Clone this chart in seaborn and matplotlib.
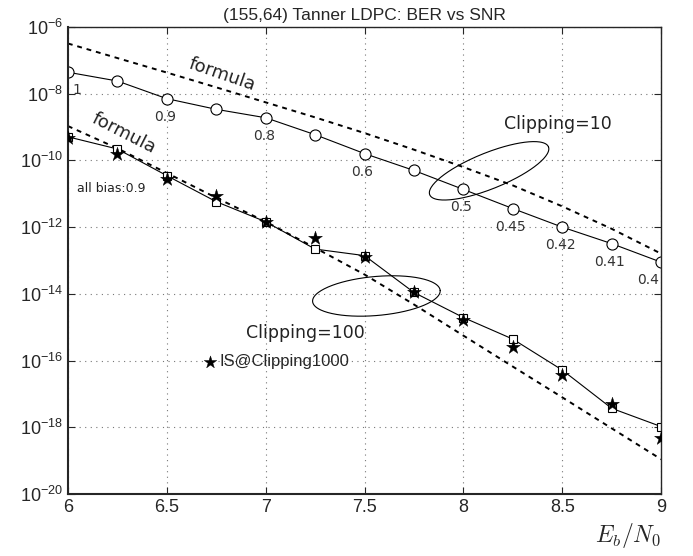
import numpy as np
import pandas as pd
import matplotlib
matplotlib.use("Agg")
import matplotlib.pyplot as plt
import seaborn as sns

# Eb/N0 grid
snr = [6.0, 6.25, 6.5, 6.75, 7.0, 7.25, 7.5, 7.75, 8.0, 8.25, 8.5, 8.75, 9.0]

# Clipping=10 (circles)
ber_clip10 = [4.4e-8, 2.4e-8, 7.1e-9, 3.4e-9, 1.9e-9, 5.9e-10, 1.6e-10,
              5.0e-11, 1.35e-11, 3.6e-12, 1.0e-12, 3.2e-13, 8.9e-14]
bias_labels = ["1", "", "0.9", "", "0.8", "", "0.6", "", "0.5", "0.45", "0.42", "0.41", "0.4"]

# Clipping=100 (squares)
ber_clip100 = [5.1e-10, 2.2e-10, 3.5e-11, 5.8e-12, 1.45e-12, 2.2e-13, 1.4e-13,
               1.1e-14, 1.95e-15, 4.4e-16, 5.2e-17, 3.7e-18, 1.05e-18]

# IS @ Clipping1000 (stars)
ber_is1000 = [4.8e-10, 1.55e-10, 2.7e-11, 8.7e-12, 1.45e-12, 4.8e-13, 1.26e-13,
              1.1e-14, 1.66e-15, 2.6e-16, 3.7e-17, 4.9e-18, 4.7e-19]

# formula curves (dashed)
ber_formula_hi = [3.2e-7, 1.17e-7, 4.3e-8, 1.55e-8, 5.5e-9, 1.95e-9, 6.6e-10,
                  2.1e-10, 6.3e-11, 1.78e-11, 4.2e-12, 8.9e-13, 1.6e-13]
ber_formula_lo = [1.07e-9, 2.3e-10, 4.2e-11, 7.6e-12, 1.45e-12, 2.4e-13, 3.8e-14,
                  4.8e-15, 5.6e-16, 6.6e-17, 7.9e-18, 9.3e-19, 1.1e-19]

df = pd.DataFrame({"snr": snr, "clip10": ber_clip10, "clip100": ber_clip100,
                   "is1000": ber_is1000, "f_hi": ber_formula_hi, "f_lo": ber_formula_lo})

sns.set_style("ticks")
plt.rcParams["font.family"] = ["Liberation Sans", "DejaVu Sans"]
plt.rcParams["mathtext.fontset"] = "cm"

fig = plt.figure(figsize=(6.93, 5.56), dpi=100)
ax = fig.add_axes([0.098, 0.1115, 0.856, 0.84])
ax.set_yscale("log")

sns.lineplot(data=df, x="snr", y="f_hi", ax=ax, color="black", lw=1.4,
             linestyle=(0, (2.5, 2.5)))
sns.lineplot(data=df, x="snr", y="f_lo", ax=ax, color="black", lw=1.4,
             linestyle=(0, (2.5, 2.5)))
sns.lineplot(data=df, x="snr", y="clip10", ax=ax, color="black", lw=0.8,
             marker="o", markersize=8, markerfacecolor="white",
             markeredgecolor="black", markeredgewidth=0.8)
sns.lineplot(data=df, x="snr", y="clip100", ax=ax, color="black", lw=0.8,
             marker="s", markersize=5.5, markerfacecolor="white",
             markeredgecolor="black", markeredgewidth=0.8)
sns.scatterplot(data=df, x="snr", y="is1000", ax=ax, marker="*", s=110,
                color="black", edgecolor="black", linewidth=0.3,
                label="IS@Clipping1000", zorder=5)

# bias labels next to Clipping=10 points
for xv, yv, lab in zip(snr, ber_clip10, bias_labels):
    if not lab:
        continue
    dx = 5 if lab == "1" else (-13 if lab == "0.4" else -2)
    ax.annotate(lab, (xv, yv), xytext=(dx, -18), textcoords="offset pixels",
                ha="left" if lab == "1" else "center", va="center",
                fontsize=10, family="DejaVu Sans", color="#333333")

# ellipses (drawn in axes fraction, pixel aspect)
W, H = 593.0, 467.0
t = np.linspace(0, 2 * np.pi, 200)
for cx, cy, a, b, ang in [(0.710, 0.692, 64, 18, 22), (0.520, 0.424, 64, 19.5, 5)]:
    th = np.radians(ang)
    ex = cx + (a * np.cos(t) * np.cos(th) - b * np.sin(t) * np.sin(th)) / W
    ey = cy + (a * np.cos(t) * np.sin(th) + b * np.sin(t) * np.cos(th)) / H
    ax.plot(ex, ey, color="black", lw=0.8, transform=ax.transAxes)

# text annotations
ax.text(0.260, 0.897, "formula", transform=ax.transAxes, rotation=-19,
        ha="center", va="center", fontsize=13, family="DejaVu Sans", color="#222222")
ax.text(0.094, 0.773, "formula", transform=ax.transAxes, rotation=-27,
        ha="center", va="center", fontsize=13, family="DejaVu Sans", color="#222222")
ax.text(0.826, 0.792, "Clipping=10", transform=ax.transAxes, ha="center",
        va="center", fontsize=12.5, family="DejaVu Sans", color="#222222")
ax.text(0.401, 0.345, "Clipping=100", transform=ax.transAxes, ha="center",
        va="center", fontsize=12.5, family="DejaVu Sans", color="#222222")
ax.text(0.015, 0.655, "all bias:0.9", transform=ax.transAxes, ha="left",
        va="center", fontsize=9, family="DejaVu Sans", color="#222222")

ax.legend(loc="center left", bbox_to_anchor=(0.228, 0.283), frameon=False,
          borderpad=0, borderaxespad=0, handlelength=0.8, handletextpad=0.2,
          fontsize=12, markerscale=0.9)

# axes styling
ax.set_xlim(6, 9)
ax.set_ylim(1e-20, 1e-6)
ax.set_xticks([6, 6.5, 7, 7.5, 8, 8.5, 9])
ax.set_xticklabels(["6", "6.5", "7", "7.5", "8", "8.5", "9"])
yt = [10.0 ** k for k in range(-20, -5, 2)]
ax.set_yticks(yt)
ax.set_yticklabels([r"$\mathdefault{10^{%d}}$" % k for k in range(-20, -5, 2)])
ax.yaxis.set_minor_locator(matplotlib.ticker.NullLocator())
ax.tick_params(direction="in", top=True, right=True, labelsize=13, length=5, width=0.8)
ax.grid(True, linestyle=(0, (1, 4)), color="#777777", lw=0.8)
for s in ax.spines.values():
    s.set_linewidth(1.0)
ax.spines["left"].set_linewidth(1.5)
ax.spines["bottom"].set_linewidth(1.5)
ax.set_xlabel("")
ax.set_ylabel("")
ax.text(0.944, -0.088, r"$E_b/N_0$", transform=ax.transAxes, ha="center",
        va="center", fontsize=17)
ax.set_title("(155,64) Tanner LDPC: BER vs SNR", fontsize=12.5, pad=5)

fig.savefig("out.png", dpi=100)
